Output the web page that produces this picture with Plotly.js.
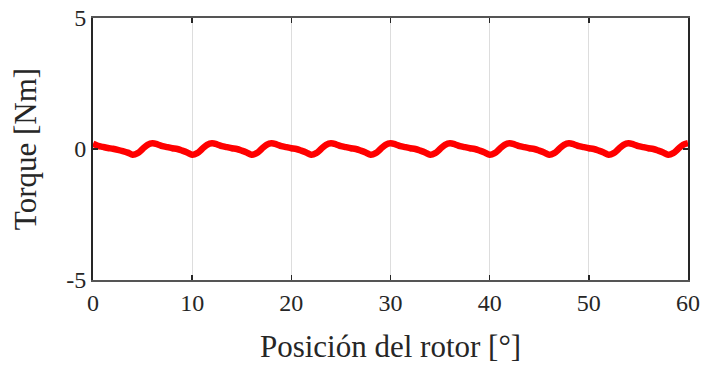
<!DOCTYPE html>
<html>
<head>
<meta charset="utf-8">
<script src="https://cdn.plot.ly/plotly-3.0.1.min.js"></script>
<style>html,body{margin:0;padding:0;background:#fff;}#chart{width:702px;height:368px;}</style>
</head>
<body>
<div id="chart"></div>
<script>
// Rotor position [deg]
const position = [
  0,0.5,1,1.5,2,2.5,3,3.5,4,4.5,5,5.5,
  6,6.5,7,7.5,8,8.5,9,9.5,10,10.5,11,11.5,
  12,12.5,13,13.5,14,14.5,15,15.5,16,16.5,17,17.5,
  18,18.5,19,19.5,20,20.5,21,21.5,22,22.5,23,23.5,
  24,24.5,25,25.5,26,26.5,27,27.5,28,28.5,29,29.5,
  30,30.5,31,31.5,32,32.5,33,33.5,34,34.5,35,35.5,
  36,36.5,37,37.5,38,38.5,39,39.5,40,40.5,41,41.5,
  42,42.5,43,43.5,44,44.5,45,45.5,46,46.5,47,47.5,
  48,48.5,49,49.5,50,50.5,51,51.5,52,52.5,53,53.5,
  54,54.5,55,55.5,56,56.5,57,57.5,58,58.5,59,59.5,
  60
];
// Torque [Nm]
const torque = [
  0.20,0.12,0.08,0.04,0.01,-0.03,-0.08,-0.14,-0.22,-0.16,0.00,0.16,
  0.22,0.18,0.11,0.07,0.03,0.00,-0.06,-0.13,-0.22,-0.16,0.00,0.16,
  0.22,0.18,0.11,0.07,0.03,0.00,-0.06,-0.13,-0.22,-0.16,0.00,0.16,
  0.22,0.18,0.11,0.07,0.03,0.00,-0.06,-0.13,-0.22,-0.16,0.00,0.16,
  0.22,0.18,0.11,0.07,0.03,0.00,-0.06,-0.13,-0.22,-0.16,0.00,0.16,
  0.22,0.18,0.11,0.07,0.03,0.00,-0.06,-0.13,-0.22,-0.16,0.00,0.16,
  0.22,0.18,0.11,0.07,0.03,0.00,-0.06,-0.13,-0.22,-0.16,0.00,0.16,
  0.22,0.18,0.11,0.07,0.03,0.00,-0.06,-0.13,-0.22,-0.16,0.00,0.16,
  0.22,0.18,0.11,0.07,0.03,0.00,-0.06,-0.13,-0.22,-0.16,0.00,0.16,
  0.22,0.18,0.11,0.07,0.03,0.00,-0.06,-0.13,-0.22,-0.16,0.00,0.16,
  0.22
];
const xTicks = [0,10,20,30,40,50,60];
const yTicks = [-5,0,5];

const font = 'Liberation Serif, DejaVu Serif, serif';

Plotly.newPlot('chart', [{
  x: position, y: torque, type: 'scatter', mode: 'lines',
  line: {color: '#ff0000', width: 6.5, shape: 'spline', smoothing: 0.8},
  hoverinfo: 'skip'
}], {
  width: 702, height: 368,
  margin: {l: 93, r: 14, t: 18, b: 88},
  paper_bgcolor: '#fff', plot_bgcolor: '#fff',
  showlegend: false,
  font: {family: font, color: '#262626', size: 24},
  xaxis: {
    range: [0, 60], tickvals: xTicks, ticktext: xTicks.map(String),
    showgrid: true, gridcolor: '#dddddd', gridwidth: 1,
    zeroline: false, showline: true, linecolor: '#555', linewidth: 2, mirror: 'ticks',
    ticks: 'inside', ticklen: 5, tickwidth: 1.5, tickcolor: '#262626',
    tickfont: {family: font, size: 24, color: '#262626'},
    title: {text: 'Posición del rotor [°]', font: {family: font, size: 31, color: '#262626'}, standoff: 21}
  },
  yaxis: {
    range: [-5, 5], tickvals: yTicks, ticktext: yTicks.map(String),
    showgrid: false, zeroline: false, showline: true, linecolor: '#262626', linewidth: 2, mirror: 'ticks',
    ticks: 'inside', ticklen: 5, tickwidth: 1.5, tickcolor: '#262626',
    tickfont: {family: font, size: 24, color: '#262626'},
    title: {text: 'Torque [Nm]', font: {family: font, size: 31, color: '#262626'}, standoff: 20}
  }
}, {staticPlot: true});
</script>
</body>
</html>
